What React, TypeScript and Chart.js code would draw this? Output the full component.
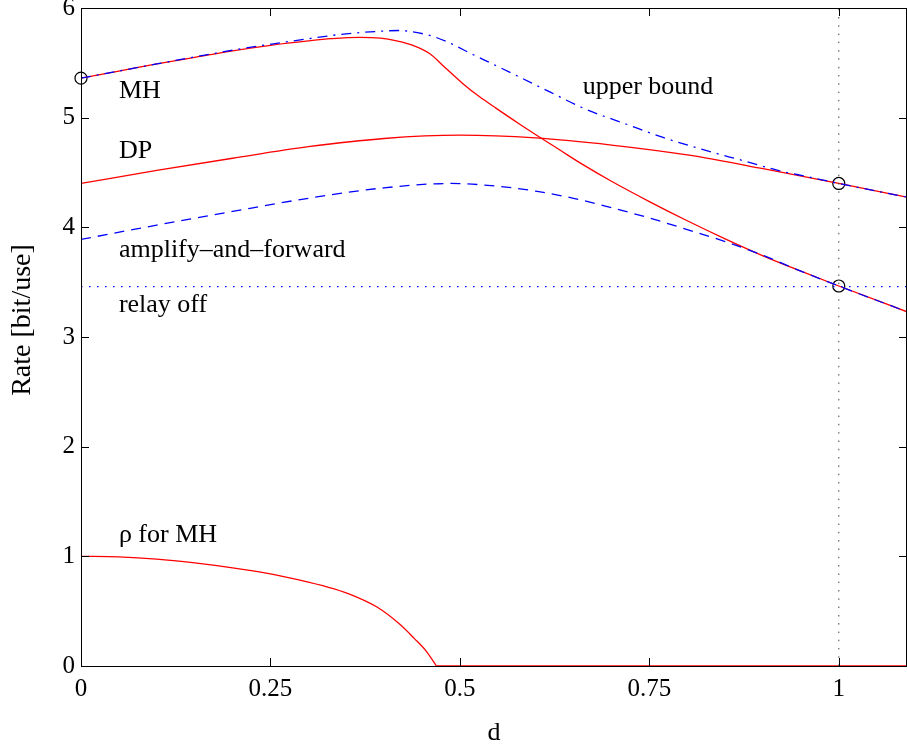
import { useEffect, useRef } from "react";
import { Chart, registerables } from "chart.js";

Chart.register(...registerables);

// ---- data ----
const xTickValues = [0, 0.25, 0.5, 0.75, 1];
const xTickLabels = ["0", "0.25", "0.5", "0.75", "1"];
const yTickValues = [0, 1, 2, 3, 4, 5, 6];
const yTickLabels = ["0", "1", "2", "3", "4", "5", "6"];

const mhD = [0, 0.05, 0.1, 0.15, 0.2, 0.25, 0.3, 0.33, 0.368, 0.395, 0.4165, 0.438, 0.46, 0.48, 0.504, 0.526, 0.548, 0.578, 0.608, 0.633, 0.658, 0.7, 0.75, 0.8, 0.85, 0.9, 0.95, 1.0, 1.09];
const mhRate = [5.36, 5.425, 5.49, 5.55, 5.61, 5.66, 5.7, 5.72, 5.733, 5.725, 5.7, 5.66, 5.585, 5.46, 5.31, 5.19, 5.085, 4.945, 4.81, 4.7, 4.59, 4.42, 4.235, 4.06, 3.895, 3.74, 3.6, 3.465, 3.23];

const ubD = [0, 0.1, 0.2, 0.3, 0.35, 0.4, 0.42, 0.44, 0.465, 0.49, 0.513, 0.54, 0.57, 0.62, 0.665, 0.72, 0.768, 0.82, 0.878, 0.922, 0.96, 1.0, 1.09];
const ubRate = [5.36, 5.49, 5.615, 5.72, 5.765, 5.79, 5.795, 5.78, 5.74, 5.67, 5.59, 5.5, 5.4, 5.23, 5.08, 4.94, 4.82, 4.71, 4.6, 4.515, 4.46, 4.4, 4.275];

const dpD = [0, 0.1, 0.2, 0.3, 0.4, 0.5, 0.6, 0.7, 0.8, 0.9, 1.0, 1.09];
const dpRate = [4.4, 4.52, 4.63, 4.735, 4.81, 4.84, 4.815, 4.75, 4.66, 4.535, 4.4, 4.275];

const afD = [0, 0.1, 0.2, 0.3, 0.4, 0.487, 0.55, 0.6, 0.65, 0.7, 0.75, 0.8, 0.85, 0.9, 0.95, 1.0, 1.09];
const afRate = [3.89, 4.02, 4.145, 4.265, 4.36, 4.4, 4.375, 4.33, 4.265, 4.18, 4.085, 3.98, 3.87, 3.745, 3.6, 3.465, 3.23];

const relayOffD = [0, 1.09];
const relayOffRate = [3.46, 3.46];

const rhoD = [0, 0.05, 0.1, 0.15, 0.2, 0.25, 0.3, 0.333, 0.36, 0.39, 0.42, 0.44, 0.455, 0.469, 0.6, 0.8, 1.09];
const rhoVal = [1.0, 0.995, 0.975, 0.94, 0.895, 0.84, 0.765, 0.705, 0.64, 0.54, 0.385, 0.25, 0.14, 0.0, 0.0, 0.0, 0.0];

const markerD = [0, 1, 1];
const markerRate = [5.36, 4.4, 3.465];

const refLineD = [1, 1];
const refLineRate = [0, 6];

const annotations = [
  { text: "MH", x: 0.05, y: 5.24 },
  { text: "DP", x: 0.05, y: 4.69 },
  { text: "amplify\u2013and\u2013forward", x: 0.05, y: 3.79 },
  { text: "relay off", x: 0.05, y: 3.29 },
  { text: "\u03c1 for MH", x: 0.05, y: 1.19 },
  { text: "upper bound", x: 0.662, y: 5.28 },
];

const xTitle = "d";
const yTitle = "Rate [bit/use]";

const FONT = '"Liberation Serif", "Times New Roman", serif';

const pts = (xs: number[], ys: number[]) => xs.map((x, i) => ({ x, y: ys[i] }));

// split rho into its curved part and the flat zero part (sharp corner where it hits 0)
const rhoZeroIdx = rhoVal.indexOf(0);
const rhoCurve = pts(rhoD, rhoVal).slice(0, rhoZeroIdx + 1);
const rhoFlat = pts(rhoD, rhoVal).slice(rhoZeroIdx);

const decorPlugin = {
  id: "decor",
  afterDraw(chart: any) {
    const { ctx, chartArea, scales } = chart;
    const xs = scales.x;
    const ys = scales.y;
    ctx.save();
    ctx.strokeStyle = "#000";
    ctx.lineWidth = 1;
    ctx.setLineDash([]);
    // box
    ctx.strokeRect(
      Math.round(chartArea.left) + 0.5,
      Math.round(chartArea.top) + 0.5,
      Math.round(chartArea.right - chartArea.left) - 1,
      Math.round(chartArea.bottom - chartArea.top)
    );
    // inward ticks
    const tl = 8;
    ctx.beginPath();
    xTickValues.forEach((v) => {
      const px = Math.round(xs.getPixelForValue(v)) + 0.5;
      ctx.moveTo(px, chartArea.bottom);
      ctx.lineTo(px, chartArea.bottom - tl);
      ctx.moveTo(px, chartArea.top);
      ctx.lineTo(px, chartArea.top + tl);
    });
    yTickValues.forEach((v) => {
      const py = Math.round(ys.getPixelForValue(v)) + 0.5;
      ctx.moveTo(chartArea.left, py);
      ctx.lineTo(chartArea.left + tl, py);
      ctx.moveTo(chartArea.right, py);
      ctx.lineTo(chartArea.right - tl, py);
    });
    ctx.stroke();

    // annotations
    ctx.fillStyle = "#000";
    ctx.font = `26px ${FONT}`;
    ctx.textAlign = "left";
    ctx.textBaseline = "middle";
    annotations.forEach((a) => {
      ctx.fillText(a.text, xs.getPixelForValue(a.x), ys.getPixelForValue(a.y));
    });

    // axis titles
    ctx.textAlign = "center";
    ctx.font = `26px ${FONT}`;
    ctx.fillText(xTitle, (chartArea.left + chartArea.right) / 2, 733);
    ctx.save();
    ctx.translate(23, 320);
    ctx.rotate(-Math.PI / 2);
    ctx.font = `28px ${FONT}`;
    ctx.fillText(yTitle, 0, 0);
    ctx.restore();
    ctx.restore();
  },
};

export default function App() {
  const ref = useRef<HTMLCanvasElement | null>(null);

  useEffect(() => {
    document.body.style.margin = "0";
    const canvas = ref.current;
    if (!canvas) return;
    const red = "#ff0000";
    const blue = "#0000ff";
    const lineBase = {
      pointRadius: 0,
      fill: false,
      cubicInterpolationMode: "monotone" as const,
    };
    const chart = new Chart(canvas, {
      type: "line",
      data: {
        datasets: [
          { ...lineBase, label: "relay off", data: pts(relayOffD, relayOffRate), borderColor: blue, borderWidth: 1.3, borderDash: [1.5, 6.5] },
          { ...lineBase, label: "d=1", data: pts(refLineD, refLineRate), borderColor: "#444", borderWidth: 1, borderDash: [1.5, 6.8] },
          { ...lineBase, label: "upper bound", data: pts(ubD, ubRate), borderColor: blue, borderWidth: 1.3, borderDash: [10, 6, 2, 6] },
          { ...lineBase, label: "amplify-and-forward", data: pts(afD, afRate), borderColor: blue, borderWidth: 1.3, borderDash: [10, 7] },
          { ...lineBase, label: "MH", data: pts(mhD, mhRate), borderColor: red, borderWidth: 1.3 },
          { ...lineBase, label: "DP", data: pts(dpD, dpRate), borderColor: red, borderWidth: 1.3 },
          { ...lineBase, label: "rho for MH", data: rhoCurve, borderColor: red, borderWidth: 1.3 },
          { ...lineBase, label: "rho for MH (zero)", data: rhoFlat, borderColor: red, borderWidth: 1.3 },
          {
            label: "markers",
            data: pts(markerD, markerRate),
            showLine: false,
            pointRadius: 6,
            pointStyle: "circle",
            pointBorderColor: "#000",
            pointBackgroundColor: "rgba(0,0,0,0)",
            pointBorderWidth: 1.2,
            borderColor: "#000",
            clip: false as any,
          } as any,
        ],
      },
      options: {
        animation: false,
        responsive: false,
        maintainAspectRatio: false,
        layout: { autoPadding: false, padding: { top: 8, left: 0, right: 0, bottom: 0 } },
        plugins: {
          legend: { display: false },
          tooltip: { enabled: false },
          title: { display: false },
        },
        scales: {
          x: {
            type: "linear",
            min: 0,
            max: 1.09,
            grid: { display: false, drawTicks: false },
            border: { display: false },
            afterBuildTicks: (s: any) => {
              s.ticks = xTickValues.map((v) => ({ value: v }));
            },
            afterFit: (s: any) => {
              s.height = 84;
              s.paddingLeft = 0;
              s.paddingRight = 0;
            },
            ticks: {
              autoSkip: false,
              maxRotation: 0,
              padding: 8,
              color: "#000",
              font: { family: FONT, size: 25 },
              callback: (v: any) => {
                const i = xTickValues.indexOf(Number(v));
                return i >= 0 ? xTickLabels[i] : "";
              },
            },
          },
          y: {
            type: "linear",
            min: 0,
            max: 6,
            grid: { display: false, drawTicks: false },
            border: { display: false },
            afterBuildTicks: (s: any) => {
              s.ticks = yTickValues.map((v) => ({ value: v }));
            },
            afterFit: (s: any) => {
              s.width = 81;
              s.paddingTop = 0;
              s.paddingBottom = 0;
            },
            ticks: {
              padding: 6,
              color: "#000",
              font: { family: FONT, size: 25 },
              callback: (v: any) => {
                const i = yTickValues.indexOf(Number(v));
                return i >= 0 ? yTickLabels[i] : "";
              },
            },
          },
        },
      },
      plugins: [decorPlugin],
    });
    return () => chart.destroy();
  }, []);

  return (
    <div style={{ width: 907, height: 750, background: "#fff" }}>
      <canvas ref={ref} width={907} height={750} style={{ display: "block" }} />
    </div>
  );
}
